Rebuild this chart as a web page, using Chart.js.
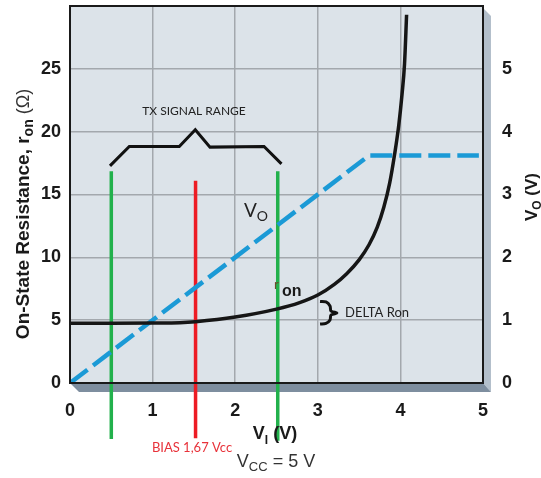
<!DOCTYPE html>
<html>
<head>
<meta charset="utf-8">
<script src="https://cdn.jsdelivr.net/npm/chart.js@4/dist/chart.umd.min.js"></script>
<style>
html,body{margin:0;padding:0;background:#fff;}
#wrap{width:541px;height:478px;position:relative;}
</style>
</head>
<body>
<div id="wrap"><canvas id="c" width="541" height="478"></canvas></div>
<script>
// ---- data ----
const xTicks = [0, 1, 2, 3, 4, 5];
const ronTicks = [0, 5, 10, 15, 20, 25];
const voTicks = [0, 1, 2, 3, 4, 5];
const ronVin = [0, 0.5, 1.0, 1.33, 1.52, 2.0, 2.5, 2.78, 3.0, 3.2, 3.35, 3.5, 3.62, 3.72, 3.8, 3.87, 3.93, 3.98, 4.02, 4.05, 4.075];
const ronOhm = [4.75, 4.75, 4.77, 4.8, 4.88, 5.25, 5.88, 6.4, 7.0, 7.85, 8.7, 9.8, 11.0, 12.4, 14.0, 15.9, 18.2, 20.5, 23.0, 25.4, 29.3];
const voVin = [0, 3.62, 4.95];
const voOut = [0, 3.62, 3.62];
const greenLeftX = [0.5, 0.5];
const greenLeftY = [16.85, -4.45];
const greenRightX = [2.515, 2.515];
const greenRightY = [16.85, -4.6];
const biasX = [1.52, 1.52];
const biasY = [16.1, -4.4];
const bracketX = [0.484, 0.718, 1.323, 1.517, 1.695, 2.349, 2.56];
const bracketY = [17.28, 18.82, 18.82, 20.15, 18.77, 18.82, 17.44];
const braceX = [3.027, 3.099, 3.148, 3.160, 3.232, 3.160, 3.148, 3.099, 3.027];
const braceY = [6.49, 6.45, 6.13, 5.73, 5.57, 5.41, 5.02, 4.74, 4.70];

const zip = (xs, ys) => xs.map((x, i) => ({x: x, y: ys[i]}));

const PLOT = {left: 70, right: 483, top: 6, bottom: 383};

const decor = {
  id: 'decor',
  beforeDraw(chart) {
    const ctx = chart.ctx, a = chart.chartArea;
    ctx.save();
    ctx.fillStyle = '#b3bfcb';
    ctx.beginPath();
    ctx.moveTo(a.right, a.top + 2);
    ctx.lineTo(a.right + 8, a.top + 10);
    ctx.lineTo(a.right + 8, a.bottom + 9);
    ctx.lineTo(a.right, a.bottom);
    ctx.closePath();
    ctx.fill();
    ctx.fillStyle = '#7e8e9f';
    ctx.beginPath();
    ctx.moveTo(a.left, a.bottom);
    ctx.lineTo(a.left + 9, a.bottom + 9);
    ctx.lineTo(a.right + 8, a.bottom + 9);
    ctx.lineTo(a.right, a.bottom);
    ctx.closePath();
    ctx.fill();
    ctx.fillStyle = '#dce3e9';
    ctx.fillRect(a.left, a.top, a.right - a.left, a.bottom - a.top);
    ctx.restore();
  },
  afterDatasetsDraw(chart) {
    const ctx = chart.ctx, a = chart.chartArea;
    ctx.save();
    ctx.strokeStyle = '#1a1a1a';
    ctx.lineWidth = 2;
    ctx.strokeRect(a.left, a.top, a.right - a.left, a.bottom - a.top);
    ctx.restore();
  },
  afterDraw(chart) {
    const ctx = chart.ctx;
    ctx.save();
    ctx.textBaseline = 'alphabetic';
    const seq = (parts, x, y, align) => {
      let w = 0;
      parts.forEach(p => { ctx.font = p[1]; w += ctx.measureText(p[0]).width; });
      let cx = align === 'center' ? x - w / 2 : x;
      parts.forEach(p => {
        ctx.font = p[1];
        ctx.fillStyle = p[3] || '#1a1a1a';
        ctx.textAlign = 'left';
        ctx.fillText(p[0], cx, y + (p[2] || 0));
        cx += ctx.measureText(p[0]).width;
      });
    };
    // left axis title
    ctx.save();
    ctx.translate(29, 214);
    ctx.rotate(-Math.PI / 2);
    seq([
      ['On-State Resistance, r', 'bold 19px "Liberation Sans", Arial, sans-serif', 0],
      ['on', 'bold 14px "Liberation Sans", Arial, sans-serif', 4],
      [' (\u03A9)', '18px "Liberation Sans", Arial, sans-serif', 0, '#333']
    ], 0, 0, 'center');
    ctx.restore();
    // right axis title
    ctx.save();
    ctx.translate(537, 197);
    ctx.rotate(-Math.PI / 2);
    seq([
      ['V', 'bold 17px "Liberation Sans", Arial, sans-serif', 0],
      ['O', 'bold 12px "Liberation Sans", Arial, sans-serif', 4],
      [' (V)', 'bold 17px "Liberation Sans", Arial, sans-serif', 0]
    ], 0, 0, 'center');
    ctx.restore();
    // x axis title
    seq([
      ['V', 'bold 18px "Liberation Sans", Arial, sans-serif', 0],
      ['I', 'bold 12px "Liberation Sans", Arial, sans-serif', 5],
      [' (V)', 'bold 18px "Liberation Sans", Arial, sans-serif', 0]
    ], 275, 439, 'center');
    // VCC
    seq([
      ['V', '18px "Liberation Sans", Arial, sans-serif', 0, '#333'],
      ['CC', '13px "Liberation Sans", Arial, sans-serif', 4, '#333'],
      [' = 5 V', '18px "Liberation Sans", Arial, sans-serif', 0, '#333']
    ], 276, 467, 'center');
    seq([['BIAS 1,67 Vcc', '13px Lato, "Open Sans", sans-serif', 0, '#e8323a']], 192, 452, 'center');
    seq([['TX SIGNAL RANGE', '12px Lato, "Open Sans", sans-serif', 0, '#222']], 194, 115, 'center');
    seq([['DELTA Ron', '13px Lato, "Open Sans", sans-serif', 0, '#222']], 345, 317, 'left');
    seq([
      ['V', '19px Lato, "Open Sans", sans-serif', 0, '#222'],
      ['O', '14px Lato, "Open Sans", sans-serif', 4, '#222']
    ], 244, 217, 'left');
    seq([['r', '13px Lato, "Open Sans", sans-serif', 0, '#6b4e2e']], 274, 289, 'left');
    seq([['on', 'bold 16px "Liberation Sans", Arial, sans-serif', 0, '#1a1a1a']], 282, 296, 'left');
    ctx.restore();
  }
};

const gridColor = '#a3a8ad';
const tickFont = {family: '"Liberation Sans", Arial, sans-serif', size: 18, weight: 'bold'};
const noPad = s => { s.paddingTop = 0; s.paddingBottom = 0; s.paddingLeft = 0; s.paddingRight = 0; };

new Chart(document.getElementById('c'), {
  type: 'line',
  data: {
    datasets: [
      {data: zip(ronVin, ronOhm), yAxisID: 'y', borderColor: '#161616', borderWidth: 3.5,
       cubicInterpolationMode: 'monotone', pointRadius: 0, fill: false},
      {data: zip(voVin, voOut), yAxisID: 'y2', borderColor: '#1b9ad6', borderWidth: 4.5,
       borderDash: [22, 7], borderCapStyle: 'butt', tension: 0, pointRadius: 0, fill: false},
      {data: zip(greenLeftX, greenLeftY), yAxisID: 'y', borderColor: '#22b14c', borderWidth: 3.5,
       pointRadius: 0, clip: false},
      {data: zip(greenRightX, greenRightY), yAxisID: 'y', borderColor: '#22b14c', borderWidth: 3.5,
       pointRadius: 0, clip: false},
      {data: zip(biasX, biasY), yAxisID: 'y', borderColor: '#ed1c24', borderWidth: 3.5,
       pointRadius: 0, clip: false},
      {data: zip(bracketX, bracketY), yAxisID: 'y', borderColor: '#111', borderWidth: 3,
       pointRadius: 0, tension: 0, clip: false},
      {data: zip(braceX, braceY), yAxisID: 'y', borderColor: '#111', borderWidth: 3,
       pointRadius: 0, tension: 0.3, clip: false}
    ]
  },
  options: {
    responsive: false,
    animation: false,
    events: [],
    layout: {padding: {top: PLOT.top, left: 0, right: 0, bottom: 0}},
    plugins: {legend: {display: false}, tooltip: {enabled: false}},
    scales: {
      x: {
        type: 'linear', min: 0, max: 5,
        afterBuildTicks: s => { s.ticks = xTicks.map(v => ({value: v})); },
        afterFit: s => { s.height = 478 - PLOT.bottom; noPad(s); },
        grid: {color: gridColor, lineWidth: 1.5, drawTicks: false},
        border: {display: false},
        ticks: {font: tickFont, color: '#1a1a1a', padding: 17, maxRotation: 0}
      },
      y: {
        type: 'linear', position: 'left', min: 0, max: 30,
        afterBuildTicks: s => { s.ticks = ronTicks.map(v => ({value: v})); },
        afterFit: s => { s.width = PLOT.left; noPad(s); },
        grid: {color: gridColor, lineWidth: 1.5, drawTicks: false},
        border: {display: false},
        ticks: {font: tickFont, color: '#1a1a1a', padding: 9}
      },
      y2: {
        type: 'linear', position: 'right', min: 0, max: 6,
        afterBuildTicks: s => { s.ticks = voTicks.map(v => ({value: v})); },
        afterFit: s => { s.width = 541 - PLOT.right; noPad(s); },
        grid: {display: false, drawTicks: false},
        border: {display: false},
        ticks: {font: tickFont, color: '#1a1a1a', padding: 19}
      }
    }
  },
  plugins: [decor]
});
</script>
</body>
</html>
